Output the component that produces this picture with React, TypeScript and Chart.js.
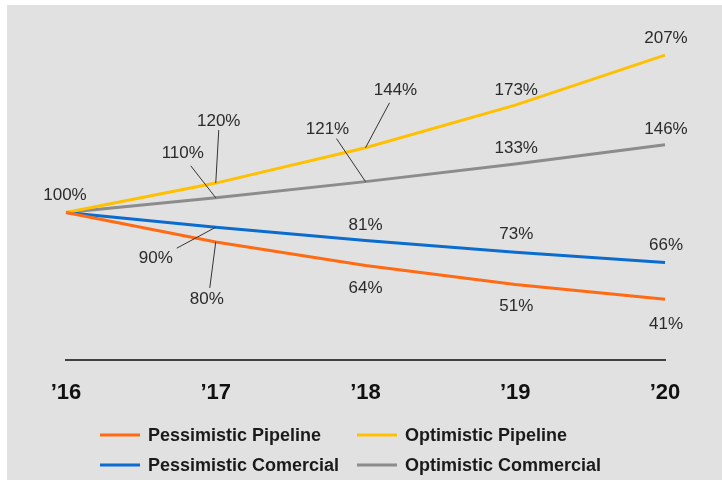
import React, { useEffect, useRef } from "react";
import { Chart, registerables } from "chart.js";

Chart.register(...registerables);

// Years on the horizontal axis
const YEARS = ["\u201916", "\u201917", "\u201918", "\u201919", "\u201920"];

// Index values (2016 = 100%)
const PESSIMISTIC_PIPELINE = [100, 80, 64, 51, 41];
const OPTIMISTIC_PIPELINE = [100, 120, 144, 173, 207];
const PESSIMISTIC_COMERCIAL = [100, 90, 81, 73, 66];
const OPTIMISTIC_COMMERCIAL = [100, 110, 121, 133, 146];

const SERIES_NAMES = [
  "Pessimistic Pipeline",
  "Optimistic Pipeline",
  "Pessimistic Comercial",
  "Optimistic Commercial",
];
const SERIES_COLORS = ["#ff6a13", "#ffc000", "#0a6ccf", "#8c8c8c"];

// Value-label placement per series/point: label offset from the point,
// optional leader line start (also relative to the point).
type LabelSpec = { dx: number; dy: number; leader?: [number, number] } | null;
const LABEL_LAYOUT: LabelSpec[][] = [
  [
    { dx: -1, dy: -17 },
    { dx: -9, dy: 57, leader: [-6, 46] },
    { dx: 0, dy: 23 },
    { dx: 1, dy: 22 },
    { dx: 1, dy: 25 },
  ],
  [
    null,
    { dx: 3, dy: -62, leader: [3, -53] },
    { dx: 30, dy: -57, leader: [24, -45] },
    { dx: 1, dy: -15 },
    { dx: 1, dy: -17 },
  ],
  [
    null,
    { dx: -60, dy: 31, leader: [-39, 21] },
    { dx: 0, dy: -15 },
    { dx: 1, dy: -18 },
    { dx: 1, dy: -17 },
  ],
  [
    null,
    { dx: -33, dy: -44, leader: [-25, -32] },
    { dx: -38, dy: -52, leader: [-29, -43] },
    { dx: 1, dy: -16 },
    { dx: 1, dy: -16 },
  ],
];

const valueLabels = {
  id: "valueLabels",
  afterDatasetsDraw(chart: Chart) {
    const ctx = chart.ctx;
    ctx.save();
    ctx.font = "17px 'Liberation Sans', Arial, sans-serif";
    ctx.textAlign = "center";
    ctx.textBaseline = "middle";
    chart.data.datasets.forEach((ds, i) => {
      const meta = chart.getDatasetMeta(i);
      (ds.data as number[]).forEach((v, j) => {
        const spec = LABEL_LAYOUT[i]?.[j];
        if (!spec) return;
        const pt = meta.data[j];
        const px = pt.x;
        const py = pt.y;
        if (spec.leader) {
          ctx.strokeStyle = "#333333";
          ctx.lineWidth = 1;
          ctx.beginPath();
          ctx.moveTo(px + spec.leader[0], py + spec.leader[1]);
          ctx.lineTo(px, py);
          ctx.stroke();
        }
        ctx.fillStyle = "#2b2b2b";
        ctx.fillText(`${v}%`, px + spec.dx, py + spec.dy);
      });
    });
    ctx.restore();
  },
};

// Two-column legend below the axis
const LEGEND_COLS = [100, 357];
const LEGEND_ROWS = [435, 465];
const gridLegend = {
  id: "gridLegend",
  afterDraw(chart: Chart) {
    const ctx = chart.ctx;
    ctx.save();
    ctx.font = "bold 18px 'Liberation Sans', Arial, sans-serif";
    ctx.textAlign = "left";
    ctx.textBaseline = "middle";
    chart.data.datasets.forEach((ds, i) => {
      const x = LEGEND_COLS[i % 2];
      const y = LEGEND_ROWS[Math.floor(i / 2)];
      ctx.strokeStyle = ds.borderColor as string;
      ctx.lineWidth = 3;
      ctx.beginPath();
      ctx.moveTo(x, y);
      ctx.lineTo(x + 40, y);
      ctx.stroke();
      ctx.fillStyle = "#1a1a1a";
      ctx.fillText(ds.label as string, x + 48, y + 1);
    });
    ctx.restore();
  },
};

export default function App() {
  const ref = useRef<HTMLCanvasElement>(null);

  useEffect(() => {
    if (!ref.current) return;
    const seriesValues = [
      PESSIMISTIC_PIPELINE,
      OPTIMISTIC_PIPELINE,
      PESSIMISTIC_COMERCIAL,
      OPTIMISTIC_COMMERCIAL,
    ];
    const chart = new Chart(ref.current, {
      type: "line",
      data: {
        labels: YEARS,
        datasets: seriesValues.map((vals, i) => ({
          label: SERIES_NAMES[i],
          data: vals,
          borderColor: SERIES_COLORS[i],
          backgroundColor: SERIES_COLORS[i],
          borderWidth: 3,
          pointRadius: 0,
          tension: 0,
          fill: false,
        })),
      },
      options: {
        animation: false,
        responsive: false,
        devicePixelRatio: 1,
        layout: { padding: { left: 66, right: 57, top: 36, bottom: 54 } },
        plugins: {
          legend: { display: false },
          tooltip: { enabled: false },
        },
        scales: {
          y: { display: false, min: 0, max: 220 },
          x: {
            offset: false,
            grid: { display: false, drawTicks: false },
            border: { display: true, color: "#404040", width: 2 },
            ticks: {
              padding: 20,
              color: "#111111",
              font: { family: "'Liberation Sans', Arial, sans-serif", size: 22, weight: "bold" },
            },
          },
        },
      },
      plugins: [valueLabels, gridLegend],
    });
    return () => chart.destroy();
  }, []);

  return (
    <div>
      <div
        style={{
          position: "fixed",
          left: 7,
          top: 5,
          right: 0,
          bottom: 0,
          background: "#e1e1e1",
        }}
      />
      <canvas
        ref={ref}
        width={722}
        height={480}
        style={{ position: "fixed", left: 0, top: 0, width: 722, height: 480 }}
      />
    </div>
  );
}
